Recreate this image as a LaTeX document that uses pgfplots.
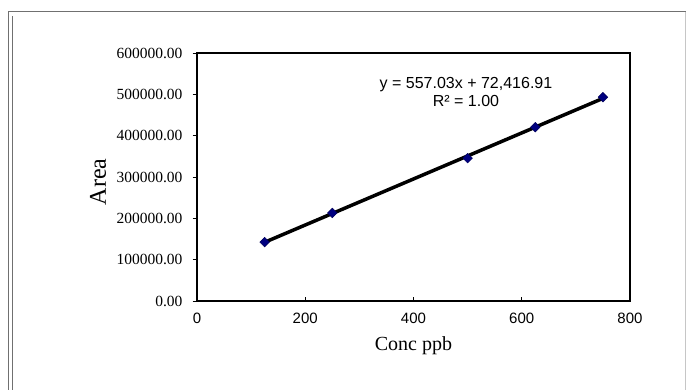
\documentclass[border=0pt]{standalone}
\usepackage{fontspec}
\setmainfont{Liberation Serif}
\newfontfamily\arial{Liberation Sans}
\usepackage{pgfplots}
\pgfplotsset{compat=1.18}
\definecolor{navy}{HTML}{000080}
\definecolor{framegray}{HTML}{707070}
\begin{document}
\begin{tikzpicture}
\useasboundingbox (0,0) rectangle (686pt,390pt);
\draw[framegray,line width=1pt] (8pt,0) -- (8pt,378pt) -- (686pt,378pt);
\draw[framegray,line width=1pt] (12pt,0) -- (12pt,374pt);
\draw[framegray!40,line width=0.8pt] (685pt,0) -- (685pt,378pt);
\begin{axis}[
  scale only axis,
  anchor=south west,
  at={(197pt,89pt)},
  width=433pt, height=248pt,
  xmin=0, xmax=800, ymin=0, ymax=600000,
  xtick={0,200,400,600,800},
  ytick={0,100000,200000,300000,400000,500000,600000},
  scaled y ticks=false, scaled x ticks=false,
  axis line style={line width=1.8pt, black},
  tick style={black, line width=0.8pt},
  tick align=inside,
  major tick length=4pt,
  ytick style={xshift=-4.5pt},
  xtick pos=bottom, ytick pos=left,
  /pgf/number format/assume math mode=true,
  yticklabel style={font=\fontsize{15.5}{18}\selectfont, xshift=-11pt, /pgf/number format/.cd, fixed, fixed zerofill, precision=2, 1000 sep={}},
  xticklabel style={font=\arial\fontsize{15}{18}\selectfont, yshift=-8pt, /pgf/number format/.cd, fixed, 1000 sep={}},
  xlabel={Conc ppb},
  ylabel={Area},
  xlabel style={font=\fontsize{20}{24}\selectfont, at={(axis description cs:0.5,-0.2016)}, anchor=base},
  ylabel style={font=\fontsize{24}{28}\selectfont, at={(axis description cs:-0.2286,0.48)}, anchor=center},
  clip=false,
]
\addplot[black, line width=3.5pt, no marks] coordinates {(125,142046) (750,490189)};
\addplot[only marks, mark=square*, mark size=3.4pt, mark options={rotate=45, fill=navy, draw=navy!70!black, line width=0.5pt}] coordinates {
  (125,142500) (250,213000) (500,345500) (625,420500) (750,493000)
};
\node[font=\arial\fontsize{16}{18}\selectfont, align=center] at (axis cs:497,506000) {y = 557.03x + 72,416.91\\R² = 1.00};
\end{axis}
\end{tikzpicture}
\end{document}
